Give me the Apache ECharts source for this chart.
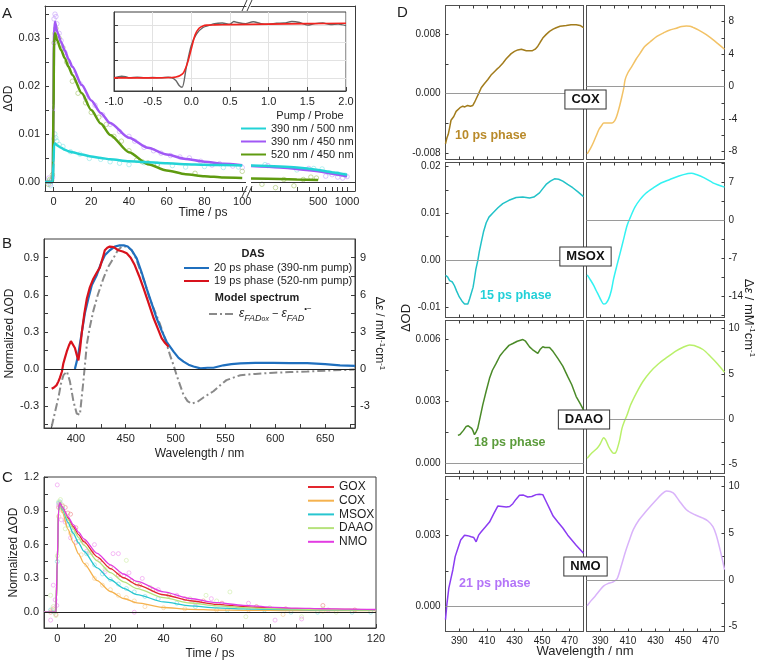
<!DOCTYPE html>
<html><head><meta charset="utf-8">
<script src="https://cdn.jsdelivr.net/npm/echarts@6/dist/echarts.min.js"></script>
<style>html,body{margin:0;padding:0;background:#fff}#c{width:759px;height:661px}</style>
</head><body><div id="c"></div>
<script>
// ===================== DATA =====================
// ---- Panel A: fits (linear part 0-100 ps) ----
const aFitT1 = [-4.5, -0.4, 0, 0.3, 0.8, 2, 4, 6, 8, 10, 15, 20, 25, 30, 40, 50, 60, 70, 80, 90, 100];
const aFitCyan1 = [0, 0, 0.004, 0.0078, 0.0080, 0.0076, 0.0071, 0.0067, 0.0064, 0.0062, 0.0057, 0.0053, 0.0050, 0.0047, 0.0043, 0.0041, 0.0039, 0.0037, 0.0036, 0.0035, 0.0034];
const aFitPurple1 = [0, 0, 0.016, 0.031, 0.0334, 0.0313, 0.0292, 0.0274, 0.0256, 0.0240, 0.0202, 0.0170, 0.0144, 0.0123, 0.0092, 0.0071, 0.0057, 0.0048, 0.0042, 0.0038, 0.0035];
const aFitGreen1 = [0, 0, 0.015, 0.029, 0.031, 0.0295, 0.0275, 0.0258, 0.0240, 0.0223, 0.0185, 0.0150, 0.0122, 0.0098, 0.0062, 0.0037, 0.0024, 0.0016, 0.0012, 0.0009, 0.0008];
// ---- Panel A: fits (log part 100-1000 ps) ----
const aFitT2 = [100, 200, 300, 500, 700, 1000];
const aFitCyan2 = [0.0034, 0.0032, 0.0030, 0.0025, 0.0020, 0.0015];
const aFitPurple2 = [0.0033, 0.0030, 0.0027, 0.0022, 0.0017, 0.0012];
const aFitGreenT2 = [100, 200, 300, 500];
const aFitGreen2 = [0.0007, 0.0006, 0.0005, 0.0004];
// ---- Panel A: measured points [t, dOD] ----
const aPtsPurple = [[-2.5,0.0008],[-1.8,-0.0005],[-1,0.0003],[-0.5,0.001],[0.3,0.034],[0.8,0.035],[1.3,0.0345],[1.8,0.033],[3,0.031],[4,0.0295],[6,0.027],[8,0.0245],[11,0.0225],[14,0.0205],[17,0.0175],[22,0.016],[26,0.014],[30,0.012],[35,0.0105],[40,0.0095],[43,0.0085],[48,0.0072],[53,0.0065],[57,0.006],[62,0.0055],[67,0.0052],[72,0.005],[78,0.0043],[84,0.0035],[88,0.0038],[95,0.0033],[100,0.003],[150,0.0034],[400,0.0028],[600,0.0012],[700,0.0015],[800,0.001],[900,0.0008],[1000,0.0011]];
const aPtsGreen = [[-2.8,-0.0005],[-2,0.0005],[-1.2,0.0003],[-0.6,0.0015],[0.3,0.029],[0.8,0.031],[1.3,0.032],[2,0.0305],[3,0.030],[4,0.0285],[5,0.028],[7,0.025],[10,0.021],[13,0.0185],[17,0.0165],[20,0.0145],[24,0.0135],[28,0.012],[32,0.0095],[36,0.0085],[40,0.0065],[44,0.0045],[47,0.0042],[50,0.004],[55,0.0035],[75,0.0018],[100,0.0022],[130,-0.0005],[180,-0.0012],[220,0.0005],[280,-0.0008],[350,0.0005],[420,0.001],[480,0.0008]];
const aPtsCyan = [[-2.5,0.0002],[-1.5,-0.0008],[-0.8,0.0005],[0.3,0.009],[0.7,0.010],[1.2,0.0092],[1.8,0.0085],[3,0.0078],[5,0.0074],[9,0.0063],[14,0.0058],[19,0.0049],[25,0.0047],[30,0.0042],[35,0.0039],[40,0.0036],[48,0.004],[55,0.0037],[63,0.0034],[70,0.0031],[80,0.0032],[90,0.0030],[98,0.0031],[140,0.0036],[300,0.0025],[450,0.0028],[550,0.0027],[650,0.0019],[800,0.0017],[950,0.0014]];
const aNames = ['390 nm / 500 nm', '390 nm / 450 nm', '520 nm / 450 nm'];
const aXLabels1 = [0, 20, 40, 60, 80, 100];
const aXTicks1 = [0, 10, 20, 30, 40, 50, 60, 70, 80, 90, 100];
const aXLabels2 = [500, 1000];
const aXTicks2 = [100, 200, 300, 400, 500, 600, 700, 800, 900, 1000];
const aYLabels = [0, 0.01, 0.02, 0.03];
const aYTicks = [0, 0.005, 0.01, 0.015, 0.02, 0.025, 0.03, 0.035];
// ---- Panel A inset ----
const inGrayX = [-1,-0.9,-0.85,-0.8,-0.7,-0.6,-0.5,-0.4,-0.3,-0.25,-0.2,-0.16,-0.12,-0.065,0,0.066,0.15,0.24,0.3,0.4,0.5,0.55,0.6,0.7,0.8,0.9,1.0,1.1,1.2,1.3,1.4,1.5,1.6,1.7,1.8,1.9,2.0];
const inGrayY = [0,0.03,0.02,0,0.01,0,0.005,0,0.01,0,-0.05,-0.14,-0.18,0.2,0.62,0.83,0.955,1.0,1.03,1.04,1.02,1.07,1.05,1.03,1.065,1.03,1.02,1.035,1.04,1.07,1.05,1.0,1.03,1.04,1.01,1.02,0.99];
const inRedX = [-1,-0.5,-0.25,-0.2,-0.15,-0.1,-0.05,0,0.05,0.1,0.15,0.2,0.3,0.5,1,1.5,2];
const inRedY = [0,0,0.005,0.015,0.04,0.1,0.28,0.55,0.82,0.94,0.985,1.0,1.005,1.01,1.02,1.03,1.035];
const inYTicks = [0, 0.333, 0.667, 1];
// ---- Panel B ----
const bBlueX = [399,402,406,409,412.5,416,421,425,429,434,439,444,448,452,456,461,466,471,476,481,486,491,498,503,508,513,518,525,532,538,548,556,565,580,598,615,632,650,665,680];
const bBlueY = [0,0.10,0.30,0.45,0.57,0.68,0.76,0.85,0.92,0.96,0.99,1.00,1.00,0.99,0.96,0.895,0.78,0.65,0.53,0.41,0.31,0.22,0.14,0.09,0.06,0.035,0.02,0.005,0.01,0.01,0.03,0.04,0.045,0.05,0.05,0.048,0.048,0.04,0.03,0.025];
const bRedX = [375.7,378,380.7,382.5,384,386,387.4,389,390.8,393,395,397,399,401,402.5,404,406,408.5,411,414,417.5,421,424,427,429,431.5,434,438,442.5,447,451,455,459,463.5,468,473,478,482,486,489.5,493];
const bRedY = [-0.16,-0.15,-0.13,-0.10,-0.07,-0.02,0.045,0.09,0.14,0.19,0.225,0.21,0.17,0.11,0.07,0.15,0.30,0.45,0.57,0.66,0.73,0.78,0.82,0.90,0.96,0.98,0.99,0.985,0.96,0.95,0.935,0.90,0.84,0.75,0.65,0.53,0.41,0.33,0.25,0.21,0.18];
const bModelX = [375.7,379,382.5,385,387.5,391,394,397.5,400.8,404,407.5,411,414,417.5,422,427.5,432,437.6,442,446,451,456,460,464,469,474,479,484.5,490,494.5,498,501,504.5,508,512,516,522,528,533,538,545,551,558,565,580,598.6,615,632,655,679];
const bModelY = [-4.66,-3.5,-2.3,-1.2,-0.5,-0.2,-1.0,-2.6,-3.6,-3.7,-1.0,2.0,3.4,4.7,6.0,7.3,8.2,8.95,9.6,9.9,9.9,9.6,9.0,8.1,7.0,5.7,4.7,3.6,2.3,1.1,0.3,-0.5,-1.3,-2.1,-2.6,-2.8,-2.65,-2.3,-2.05,-1.8,-1.3,-0.9,-0.7,-0.5,-0.4,-0.3,-0.25,-0.2,-0.12,-0.05];
const bNames = ['20 ps phase (390-nm pump)', '19 ps phase (520-nm pump)', 'model'];
const bXLabels = [400, 450, 500, 550, 600, 650];
const bXTicks = [375, 400, 425, 450, 475, 500, 525, 550, 575, 600, 625, 650, 675];
const bYLabels = [-0.3, 0, 0.3, 0.6, 0.9];
const bYTicks = [-0.45, -0.3, -0.15, 0, 0.15, 0.3, 0.45, 0.6, 0.75, 0.9];
const bY2Labels = [-3, 0, 3, 6, 9];
const bY2Ticks = [-4.5, -3, -1.5, 0, 1.5, 3, 4.5, 6, 7.5, 9];
// ---- Panel C ----
const cNames = ['GOX', 'COX', 'MSOX', 'DAAO', 'NMO'];
const cFitT = [-5,-0.5,0,0.5,1,2,4,6,8,10,15,20,25,30,40,50,60,70,80,90,100,110,120];
const cFitGOX  = [0,0,0.45,0.92,0.97,0.924,0.838,0.760,0.689,0.626,0.492,0.387,0.306,0.243,0.155,0.102,0.070,0.050,0.038,0.031,0.027,0.024,0.022];
const cFitCOX  = [0,0,0.45,0.90,0.965,0.882,0.738,0.618,0.518,0.434,0.281,0.184,0.122,0.083,0.042,0.026,0.019,0.017,0.016,0.015,0.015,0.015,0.015];
const cFitMSOX = [0,0,0.45,0.91,0.97,0.909,0.798,0.701,0.616,0.541,0.394,0.288,0.212,0.157,0.091,0.056,0.039,0.030,0.025,0.023,0.021,0.021,0.020];
const cFitDAAO = [0,0,0.45,0.92,0.97,0.919,0.824,0.740,0.664,0.596,0.456,0.351,0.270,0.210,0.129,0.082,0.056,0.041,0.032,0.027,0.024,0.022,0.021];
const cFitNMO  = [0,0,0.45,0.92,0.97,0.928,0.849,0.777,0.711,0.651,0.523,0.421,0.339,0.274,0.181,0.122,0.085,0.061,0.046,0.037,0.031,0.027,0.024];
const cPtsGOX  = [[-2.5,0.0],[-1.5,0.03],[-0.5,-0.02],[0.5,0.93],[1,0.97],[2,0.94],[3,0.93],[4,0.88],[5,0.87],[7,0.75],[10,0.62],[13,0.53],[16,0.46],[20,0.40],[23,0.33],[28,0.28],[31,0.24],[36,0.20],[42,0.15],[48,0.12],[55,0.10],[62,0.08],[75,0.05],[86,0.03],[100,0.06],[112,0.02]];
const cPtsCOX  = [[-2,0.02],[-1,0.0],[0.5,0.85],[1,0.95],[2,0.9],[3,0.82],[5,0.70],[7,0.62],[9,0.51],[11,0.42],[14,0.30],[17,0.24],[20,0.20],[23,0.15],[26,0.13],[29,0.10],[33,0.05],[40,0.04],[48,0.03],[60,0.02],[72,0.02],[85,-0.02],[100,0.01]];
const cPtsMSOX = [[-2.5,0.02],[-1.2,0.0],[0,0.45],[0.5,0.97],[1,0.98],[2,0.92],[4,0.78],[6,0.72],[8,0.63],[11,0.52],[14,0.42],[17,0.34],[20,0.29],[23,0.25],[26,0.21],[29,0.18],[33,0.14],[38,0.12],[45,0.08],[52,0.05],[64,0.02],[78,0.02],[88,0.0],[98,0.0],[111,0.0],[118,0.0]];
const cPtsDAAO = [[-2.5,0.15],[-1.5,0.05],[-0.5,-0.03],[0,0.5],[0.5,0.98],[1.2,1.0],[2,0.95],[3,0.74],[4,0.77],[6,0.70],[8,0.63],[12,0.53],[18,0.38],[26,0.46],[30,0.25],[35,0.22],[42,0.15],[50,0.12],[56,0.15],[60,0.10],[65,0.18],[71,-0.04],[80,0.04],[92,-0.04],[100,0.03],[105,0.0]];
const cPtsNMO  = [[-2.5,-0.07],[-1.5,0.24],[-0.8,0.11],[-0.2,0.06],[0,1.13],[0.5,0.95],[1.5,0.82],[3,0.80],[5,0.66],[7,0.62],[11,0.54],[14,0.60],[18,0.36],[21,0.52],[23,0.52],[25,0.32],[27,0.35],[29,0.0],[32,0.30],[38,0.20],[45,0.15],[52,0.08],[58,0.12],[72,0.08],[82,-0.07],[92,-0.06],[102,0.02]];
const cXLabels = [0, 20, 40, 60, 80, 100, 120];
const cXTicks = [0, 10, 20, 30, 40, 50, 60, 70, 80, 90, 100, 110, 120];
const cYLabels = [0, 0.3, 0.6, 0.9, 1.2];
const cYTicks = [0, 0.15, 0.3, 0.45, 0.6, 0.75, 0.9, 1.05, 1.2];
// ---- Panel D: DAS (left) and model spectra (right) ----
const dCoxLX = [380,381,382,383,384,385,386,387.7,389,390.5,392.5,394,396,398,399.8,401,402,404,405.9,408,410.7,413,416.7,419,421.5,424,427.6,430,432.4,435,438.5,441,443,445,446.9,448.5,450.5,453,455.4,458,460.2,463,467.5,471,474.7,477.5,480];
const dCoxLY = [-0.0068,-0.0060,-0.0055,-0.0046,-0.0036,-0.0037,-0.0031,-0.0024,-0.0022,-0.0019,-0.0017,-0.0018,-0.0016,-0.0017,-0.0016,-0.0012,-0.0008,0.0000,0.0008,0.0013,0.0019,0.0025,0.0032,0.0036,0.0041,0.0047,0.0054,0.0057,0.0059,0.0060,0.0058,0.0058,0.0058,0.0060,0.0064,0.0069,0.0075,0.0080,0.0084,0.0087,0.0089,0.0091,0.0092,0.0093,0.0093,0.0092,0.0089];
const dCoxRX = [380.5,383,385,387,389,391,392.5,395,398.5,400.5,402,404,405.7,407,408,410,412.9,416,418.8,422,426,431,435.6,440,445.2,449,452.4,455,457.2,461,466.8,473,480];
const dCoxRY = [-8.3,-7.6,-6.9,-6.1,-5.3,-4.8,-4.5,-4.5,-4.5,-4.2,-3.6,-2.4,-1.2,-0.2,0.86,1.7,2.5,3.4,4.1,4.9,5.5,6.2,6.6,6.95,7.2,7.4,7.46,7.45,7.3,7.0,6.4,5.6,4.6];
const dMsoxLX = [380,381.5,383,385,386.5,388,390,392,393.8,395,396.2,397.5,398.6,400,401,402,403.4,404.5,405.9,407.5,409.5,411.5,414.3,418,421.5,426,431.2,436,440.9,444,448.1,450.5,452.9,456,459,462,465,468.5,472.2,476,480];
const dMsoxLY = [-0.0033,-0.0036,-0.0044,-0.0047,-0.0055,-0.0066,-0.0079,-0.0088,-0.0094,-0.0095,-0.0094,-0.0083,-0.0080,-0.0058,-0.0040,-0.0020,-0.0001,0.0018,0.0038,0.0060,0.0080,0.0092,0.0101,0.0112,0.0121,0.0128,0.0134,0.0135,0.0133,0.0135,0.0144,0.0153,0.0162,0.0169,0.0174,0.0173,0.0169,0.0162,0.0155,0.0146,0.0136];
const dMsoxRX = [380.5,383,385.3,387,388.8,390.5,392.4,394,396,398,399.6,402,404.5,407,409.3,411.7,415,418.9,423,428.4,434,440.4,447,453.6,456,459.6,465,471.6,476,480];
const dMsoxRY = [-10.1,-11.1,-12.1,-13.0,-13.9,-14.8,-15.5,-15.4,-14.6,-13.0,-10.9,-8.4,-5.95,-3.4,-1.05,0.5,2.4,3.87,5.0,6.0,6.9,7.55,8.2,8.66,8.7,8.47,7.9,6.94,6.5,6.14];
const dDaaoLX = [389,390.5,391.4,393,395,396.5,397.9,399,399.8,401,402,403.4,405,407,409.5,411.9,414,416.7,419.5,422.8,426,428.8,432,436.1,438,440.9,443,446.9,448.5,450.5,452,455.4,458,461.4,465,468.6,471.5,474.7,477.5,480];
const dDaaoLY = [0.00136,0.0014,0.00147,0.0016,0.00179,0.00182,0.00184,0.0017,0.0016,0.00139,0.0015,0.00171,0.0022,0.00283,0.0035,0.00411,0.0045,0.00483,0.0052,0.00547,0.0057,0.00579,0.0059,0.00598,0.0059,0.00563,0.0055,0.00531,0.0055,0.00563,0.0056,0.0056,0.0054,0.00507,0.0047,0.00419,0.0038,0.00323,0.0029,0.00259];
const dDaaoRX = [380.5,384,387.7,390,392.5,394,396,398,399.6,401,402,404,405.7,407.5,409.3,412,416.5,421,426,432,438,445,450,454.8,458,464.4,470,475,480];
const dDaaoRY = [-4.3,-3.7,-3.2,-2.7,-2.04,-2.3,-3.0,-3.5,-3.75,-3.7,-3.4,-2.3,-1.0,-0.2,0.44,1.6,3.0,4.2,5.2,6.1,6.8,7.55,7.95,8.2,8.15,7.7,6.9,6.1,5.2];
const dNmoLX = [380,381,382.4,384,385.3,387,389,391,393.8,396,398.6,400.5,402.2,404,405.9,409,411.9,415,417.9,421,424,426.5,428.8,431,433.6,436.5,439.6,442.5,445.7,448,450.5,453,455.4,458,461.4,465,468.6,471.5,474.7,477.5,480];
const dNmoLY = [-0.00054,0.0001,0.00078,0.0012,0.00154,0.0021,0.00245,0.0028,0.0030,0.00298,0.00293,0.0029,0.00272,0.0030,0.00314,0.00335,0.00355,0.0039,0.00422,0.0042,0.00418,0.0042,0.00432,0.0045,0.00467,0.00468,0.0046,0.00462,0.0047,0.00472,0.0047,0.0044,0.00411,0.0038,0.00355,0.0033,0.003,0.0028,0.00258,0.0024,0.00224];
const dNmoRX = [380.5,383.5,386.5,389.5,392.5,395.5,398.5,402,405,408,411,414,418,422.4,426.5,430.8,434,438,442.8,447,452.4,458,464.4,468,471.6,474,477,480];
const dNmoRY = [-2.77,-2.2,-1.70,-1.15,-0.64,-0.4,-0.28,0.07,1.4,2.9,4.2,5.4,6.4,7.2,7.9,8.6,9.1,9.5,9.3,8.5,7.5,7.0,6.6,6.3,5.7,4.8,3.1,1.1];
const dEnzymes = ['COX', 'MSOX', 'DAAO', 'NMO'];
const dPhases = ['10 ps phase', '15 ps phase', '18 ps phase', '21 ps phase'];
const dXLabels = [390, 410, 430, 450, 470];
const dXTicks = [390, 400, 410, 420, 430, 440, 450, 460, 470];
const dLeftRange = [[-0.0089, 0.0119], [-0.0123, 0.0209], [-0.00048, 0.0069], [-0.00104, 0.00546]];
const dLeftLabels = [[-0.008, 0, 0.008], [-0.01, 0, 0.01, 0.02], [0, 0.003, 0.006], [0, 0.003]];
const dLeftTicks = [[-0.008,-0.004,0,0.004,0.008], [-0.01,-0.005,0,0.005,0.01,0.015,0.02], [0,0.0015,0.003,0.0045,0.006], [0,0.0015,0.003,0.0045]];
const dLeftDecimals = [3, 2, 3, 3];
const dRightRange = [[-9, 10], [-18, 10.7], [-5.98, 10.9], [-5.53, 11.06]];
const dRightLabels = [[-8,-4,0,4,8], [-14,-7,0,7], [-5,0,5,10], [-5,0,5,10]];
const dRightTicks = [[-8,-6,-4,-2,0,2,4,6,8], [-17.5,-14,-10.5,-7,-3.5,0,3.5,7,10.5], [-5,-2.5,0,2.5,5,7.5,10], [-5,-2.5,0,2.5,5,7.5,10]];

// ===================== BUILD =====================
const FONT = '"Liberation Sans", Arial, Helvetica, sans-serif';
const AX = '#3c3c3c';
const TXT = '#1e1e1e';
function zip(xs, ys) { const n = Math.min(xs.length, ys.length); const o = []; for (let i = 0; i < n; i++) o.push([xs[i], ys[i]]); return o; }

const grids = [], xAxes = [], yAxes = [], series = [], graphics = [];
function addGrid(l, t, w, h, extra) { grids.push(Object.assign({left: l, top: t, width: w, height: h, containLabel: false, show: false}, extra || {})); return grids.length - 1; }
function mkAxis(gi, o) {
  const a = {
    type: o.type || 'value', gridIndex: gi, position: o.position, min: o.min, max: o.max,
    axisLine: {show: o.line !== false, onZero: false, lineStyle: {color: o.lineColor || AX, width: 1}},
    axisTick: o.ticks ? {show: true, inside: true, length: o.tickLen || 4, lineStyle: {color: AX, width: 1}} : {show: false},
    axisLabel: o.labels ? {show: true, formatter: o.fmt, fontSize: o.fontSize || 11, color: TXT, fontFamily: FONT, margin: o.margin != null ? o.margin : 5, showMinLabel: true, showMaxLabel: true} : {show: false},
    splitLine: o.split ? {show: true, lineStyle: {color: '#e2e2e2', width: 1}} : {show: false},
    minorTick: {show: false}, minorSplitLine: {show: false}
  };
  if (o.interval != null) a.interval = o.interval;
  if (o.logBase) a.logBase = o.logBase;
  if (Array.isArray(o.ticks)) a.axisTick.customValues = o.ticks;
  if (Array.isArray(o.labels)) a.axisLabel.customValues = o.labels;
  if (o.name) {
    a.name = o.name; a.nameLocation = 'middle'; a.nameGap = o.nameGap || 20;
    if (o.nameRotate != null) a.nameRotate = o.nameRotate;
    a.nameTextStyle = Object.assign({fontSize: 12, color: TXT, fontFamily: FONT}, o.nameStyle || {});
  }
  return a;
}
function addX(gi, o) { xAxes.push(mkAxis(gi, o)); return xAxes.length - 1; }
function addY(gi, o) { yAxes.push(mkAxis(gi, o)); return yAxes.length - 1; }
function zeroLine(color) { return {silent: true, symbol: 'none', label: {show: false}, lineStyle: {color: color, width: 1, type: 'solid'}, data: [{yAxis: 0}], animation: false}; }
function line(xi, yi, data, color, width, extra) {
  return Object.assign({type: 'line', xAxisIndex: xi, yAxisIndex: yi, data: data, symbol: 'none', showSymbol: false,
    lineStyle: {color: color, width: width}, itemStyle: {color: color}, animation: false, z: 3}, extra || {});
}
function pts(xi, yi, data, color, size) {
  return {type: 'scatter', xAxisIndex: xi, yAxisIndex: yi, data: data, symbol: 'circle', symbolSize: size || 4.5,
    itemStyle: {color: 'rgba(255,255,255,0)', borderColor: color, borderWidth: 0.8}, animation: false, z: 2, silent: true};
}
function gtext(x, y, text, font, fill, align, valign, rot, extraStyle) {
  const st = Object.assign({text: text, font: font, fill: fill || TXT, textAlign: align || 'left', align: align || 'left',
    textVerticalAlign: valign || 'middle', verticalAlign: valign || 'middle'}, extraStyle || {});
  const g = {type: 'text', x: x, y: y, style: st, z: 100, silent: true};
  if (rot) g.rotation = rot;
  graphics.push(g);
}

// ---------- Panel A ----------
const colA = ['#22d3d6', '#a158f5', '#5f9b10'];
const colAp = ['#8fe6e8', '#c8a2fb', '#a8c870'];
const gA1 = addGrid(45, 6, 201, 185);
const gA2 = addGrid(251, 6, 104, 185);
const xA1 = addX(gA1, {min: -4.5, max: 102, position: 'bottom', labels: aXLabels1, ticks: aXTicks1, fmt: v => String(v)});
addX(gA1, {min: -4.5, max: 102, position: 'top'});
const yA1 = addY(gA1, {min: -0.0019, max: 0.0367, position: 'left', labels: aYLabels, ticks: aYTicks, fmt: v => v.toFixed(2), name: 'ΔOD', nameGap: 22, nameRotate: 90});
const xA2 = addX(gA2, {type: 'log', logBase: 10, min: 100, max: 1210, position: 'bottom', labels: aXLabels2, ticks: aXTicks2, fmt: v => String(Math.round(v))});
addX(gA2, {type: 'log', logBase: 10, min: 100, max: 1210, position: 'top'});
const yA2 = addY(gA2, {min: -0.0019, max: 0.0367, position: 'right'});
// points
series.push(pts(xA1, yA1, aPtsCyan.filter(p => p[0] <= 100), colAp[0]));
series.push(pts(xA1, yA1, aPtsPurple.filter(p => p[0] <= 100), colAp[1]));
series.push(pts(xA1, yA1, aPtsGreen.filter(p => p[0] <= 100), colAp[2]));
series.push(pts(xA2, yA2, aPtsCyan.filter(p => p[0] > 100), colAp[0]));
series.push(pts(xA2, yA2, aPtsPurple.filter(p => p[0] > 100), colAp[1]));
series.push(pts(xA2, yA2, aPtsGreen.filter(p => p[0] > 100), colAp[2]));
// fits
series.push(line(xA1, yA1, zip(aFitT1, aFitPurple1), colA[1], 2.5, {name: aNames[1], smooth: 0.25, smoothMonotone: 'x'}));
series.push(line(xA1, yA1, zip(aFitT1, aFitGreen1), colA[2], 2.5, {name: aNames[2], smooth: 0.25, smoothMonotone: 'x'}));
series.push(line(xA1, yA1, zip(aFitT1, aFitCyan1), colA[0], 2.5, {name: aNames[0], smooth: 0.25, smoothMonotone: 'x', markLine: zeroLine('#333')}));
series.push(line(xA2, yA2, zip(aFitT2, aFitPurple2), colA[1], 2.5, {name: aNames[1], smooth: 0.3}));
series.push(line(xA2, yA2, zip(aFitGreenT2, aFitGreen2), colA[2], 2.5, {name: aNames[2], smooth: 0.3}));
series.push(line(xA2, yA2, zip(aFitT2, aFitCyan2), colA[0], 2.5, {name: aNames[0], smooth: 0.3, markLine: zeroLine('#333')}));

// inset
const gIn = addGrid(114, 12, 232, 79, {show: true, backgroundColor: '#fff', borderColor: AX, borderWidth: 1, z: 5});
const xIn = addX(gIn, {min: -1, max: 2, interval: 0.5, position: 'bottom', labels: true, ticks: true, split: true, fmt: v => v.toFixed(1)});
const yIn = addY(gIn, {min: -0.25, max: 1.25, position: 'left', ticks: inYTicks, split: true});
xAxes[xIn].z = 6; yAxes[yIn].z = 6;
series.push(line(xIn, yIn, zip(inGrayX, inGrayY), '#666', 1.4, {z: 7, smooth: 0.3}));
series.push(line(xIn, yIn, zip(inRedX, inRedY), '#f2231f', 1.6, {z: 8, smooth: 0.3}));

// ---------- Panel B ----------
const gB = addGrid(44, 239, 311, 189, {show: true, borderColor: AX, borderWidth: 1});
const xB = addX(gB, {min: 368, max: 680, position: 'bottom', labels: bXLabels, ticks: bXTicks, fmt: v => String(v), name: 'Wavelength / nm', nameGap: 20});
const yB = addY(gB, {min: -0.477, max: 1.051, position: 'left', labels: bYLabels, ticks: bYTicks, fmt: v => v.toFixed(1), name: 'Normalized ΔOD', nameGap: 18, nameRotate: 90});
const yB2 = addY(gB, {min: -4.77, max: 10.51, position: 'right', labels: bY2Labels, ticks: bY2Ticks, fmt: v => String(v),
  name: 'Δ{i|ε} / mM{s|-1}cm{s|-1}', nameGap: 10, nameRotate: -90,
  nameStyle: {rich: {i: {fontSize: 12, fontStyle: 'italic', fontFamily: FONT, color: TXT}, s: {fontSize: 8, verticalAlign: 'top', fontFamily: FONT, color: TXT, lineHeight: 14}}}});
series.push(line(xB, yB2, zip(bModelX, bModelY), '#8a8a8a', 2, {name: bNames[2], lineStyle: {color: '#8a8a8a', width: 2, type: [8, 3, 2, 3]}}));
series.push(line(xB, yB, zip(bBlueX, bBlueY), '#1f6fbe', 2.2, {name: bNames[0], markLine: zeroLine('#222')}));
series.push(line(xB, yB, zip(bRedX, bRedY), '#d8121c', 2.2, {name: bNames[1]}));

// ---------- Panel C ----------
const colC = ['#e3262e', '#f5b24e', '#27c6d0', '#b6e27c', '#e23ce2'];
const colCp = ['#ef8a8e', '#f8cf95', '#86e0e5', '#cfeeaa', '#ef96ef'];
const gC = addGrid(44, 477, 332, 151, {show: true, borderColor: AX, borderWidth: 1});
const xC = addX(gC, {min: -5, max: 120, position: 'bottom', labels: cXLabels, ticks: cXTicks, fmt: v => String(v), name: 'Time / ps', nameGap: 20});
const yC = addY(gC, {min: -0.14, max: 1.2, position: 'left', labels: cYLabels, ticks: cYTicks, fmt: v => v.toFixed(1), name: 'Normalized ΔOD', nameGap: 21, nameRotate: 90});
const cPts = [cPtsGOX, cPtsCOX, cPtsMSOX, cPtsDAAO, cPtsNMO];
const cFits = [cFitGOX, cFitCOX, cFitMSOX, cFitDAAO, cFitNMO];
cPts.forEach((p, i) => series.push(pts(xC, yC, p, colCp[i], 4)));
cFits.forEach((f, i) => series.push(line(xC, yC, zip(cFitT, f), colC[i], 1.3, {name: cNames[i], smooth: 0.25, smoothMonotone: 'x', markLine: i === 0 ? zeroLine('#222') : undefined})));

// ---------- Panel D ----------
const dColL = ['#a27c1c', '#22c2c8', '#4a8a28', '#8b3cf2'];
const dColR = ['#f2c266', '#33f2f2', '#b9f06a', '#d9b3fa'];
const dTxtCol = ['#b98a2a', '#22d0d8', '#5c9c3c', '#b374f8'];
const dTops = [5.5, 162.5, 320.5, 476.5], dHeights = [154, 155, 153, 155];
const dData = [[dCoxLX, dCoxLY, dCoxRX, dCoxRY], [dMsoxLX, dMsoxLY, dMsoxRX, dMsoxRY], [dDaaoLX, dDaaoLY, dDaaoRX, dDaaoRY], [dNmoLX, dNmoLY, dNmoRX, dNmoRY]];
for (let r = 0; r < 4; r++) {
  const last = r === 3;
  const gl = addGrid(445.5, dTops[r], 138, dHeights[r], {show: true, borderColor: '#505050', borderWidth: 1});
  const gr = addGrid(586.5, dTops[r], 138, dHeights[r], {show: true, borderColor: '#505050', borderWidth: 1});
  const xl = addX(gl, {min: 380, max: 480, position: 'bottom', ticks: dXTicks, labels: last ? dXLabels : false, fmt: v => String(v), fontSize: 10, tickLen: 3, margin: 5, lineColor: '#505050'});
  addX(gl, {min: 380, max: 480, position: 'top', ticks: dXTicks, tickLen: 3, lineColor: '#505050'});
  const dec = dLeftDecimals[r];
  const yl = addY(gl, {min: dLeftRange[r][0], max: dLeftRange[r][1], position: 'left', labels: dLeftLabels[r], ticks: dLeftTicks[r], fmt: v => v.toFixed(dec), fontSize: 10, tickLen: 3, margin: 5, lineColor: '#505050'});
  const xr = addX(gr, {min: 380, max: 480, position: 'bottom', ticks: dXTicks, labels: last ? dXLabels : false, fmt: v => String(v), fontSize: 10, tickLen: 3, margin: 5, lineColor: '#505050'});
  addX(gr, {min: 380, max: 480, position: 'top', ticks: dXTicks, tickLen: 3, lineColor: '#505050'});
  const yr = addY(gr, {min: dRightRange[r][0], max: dRightRange[r][1], position: 'right', labels: dRightLabels[r], ticks: dRightTicks[r], fmt: v => String(v), fontSize: 10, tickLen: 3, margin: 4, lineColor: '#505050'});
  const d = dData[r];
  series.push(line(xl, yl, zip(d[0], d[1]), dColL[r], 1.5, {name: dEnzymes[r] + ' DAS', markLine: zeroLine('#9a9a9a')}));
  series.push(line(xr, yr, zip(d[2], d[3]), dColR[r], 1.5, {name: dEnzymes[r] + ' model', smooth: 0.3, markLine: zeroLine('#9a9a9a')}));
}

// ---------- graphics (annotations) ----------
const F = s => s + 'px ' + FONT;
gtext(2, 14, 'A', F(15)); gtext(2, 244, 'B', F(15)); gtext(2, 478, 'C', F(15)); gtext(397, 13, 'D', F(15));
gtext(203, 213, 'Time / ps', F(12), TXT, 'center');
gtext(310, 116, 'Pump / Probe', F(11), TXT, 'center');
gtext(253, 254, 'DAS', 'bold ' + F(11), TXT, 'center');
gtext(257, 298, 'Model spectrum', 'bold ' + F(11), TXT, 'center');
const boxX = [585.5, 585.5, 584, 585.5], boxY = [99.5, 256.5, 419.5, 566.5];
dEnzymes.forEach((n, i) => gtext(boxX[i], boxY[i], n, 'bold ' + F(13), '#111', 'center', 'middle', 0,
  {backgroundColor: '#fff', borderColor: '#333', borderWidth: 1, padding: [3, 6, 2, 6]}));
const phX = [455, 480, 474, 459], phY = [136, 296, 443, 584];
dPhases.forEach((p, i) => gtext(phX[i], phY[i], p, 'bold ' + F(12.5), dTxtCol[i], 'left'));
gtext(406, 318, 'ΔOD', F(13), TXT, 'center', 'middle', Math.PI / 2);
gtext(749, 318, 'Δ{i|ε} / mM{s|-1}cm{s|-1}', F(13), TXT, 'center', 'middle', -Math.PI / 2,
  {rich: {i: {font: 'italic ' + F(13), fill: TXT}, s: {font: F(8), fill: TXT, verticalAlign: 'top', lineHeight: 15}}});
gtext(585, 651, 'Wavelength / nm', F(13), TXT, 'center');
// axis break marks in panel A
[[242, 197, 247, 186], [247, 197, 252, 186], [242, 11, 247, 0], [247, 11, 252, 0]].forEach(s => graphics.push({
  type: 'line', shape: {x1: s[0], y1: s[1], x2: s[2], y2: s[3]}, style: {stroke: AX, lineWidth: 1}, z: 100, silent: true}));

// ---------- legends ----------
const hideSym = {opacity: 0, borderWidth: 0};
const legends = [
  {data: aNames, left: 240, top: 122, orient: 'vertical', padding: 0, itemGap: 0, itemWidth: 25, itemHeight: 13, itemStyle: hideSym,
   textStyle: {fontSize: 11, color: TXT, fontFamily: FONT, lineHeight: 13}, selectedMode: false},
  {data: bNames.slice(0, 2), left: 183, top: 261.5, orient: 'vertical', padding: 0, itemGap: 0, itemWidth: 25, itemHeight: 13, itemStyle: hideSym,
   textStyle: {fontSize: 11, color: TXT, fontFamily: FONT, lineHeight: 13}, selectedMode: false},
  {data: [bNames[2]], left: 208, top: 305, orient: 'vertical', padding: 0, itemWidth: 25, itemHeight: 14, selectedMode: false, itemStyle: hideSym,
   formatter: () => '{e|ε}{s|FAD}{ss|ox} − {e|ε}{s|FAD}{sp|•−}',
   textStyle: {fontSize: 11, color: TXT, fontFamily: FONT, rich: {
     e: {fontSize: 12, fontStyle: 'italic', fontFamily: FONT, color: TXT},
     s: {fontSize: 9, fontStyle: 'italic', fontFamily: FONT, color: TXT, verticalAlign: 'bottom', lineHeight: 16},
     ss: {fontSize: 7, fontStyle: 'italic', fontFamily: FONT, color: TXT, verticalAlign: 'bottom', lineHeight: 18},
     sp: {fontSize: 8, fontFamily: FONT, color: TXT, verticalAlign: 'top', lineHeight: 16}}}},
  {data: cNames, left: 307, top: 480.5, orient: 'vertical', padding: 0, itemGap: 0.7, itemWidth: 26, itemHeight: 13, itemStyle: hideSym,
   textStyle: {fontSize: 12, color: TXT, fontFamily: FONT, lineHeight: 13}, selectedMode: false}
];

const chart = echarts.init(document.getElementById('c'), null, {renderer: 'canvas', width: 759, height: 661});
chart.setOption({
  backgroundColor: '#fff', animation: false,
  textStyle: {fontFamily: FONT},
  grid: grids, xAxis: xAxes, yAxis: yAxes, series: series, legend: legends, graphic: {elements: graphics}
});
</script></body></html>
